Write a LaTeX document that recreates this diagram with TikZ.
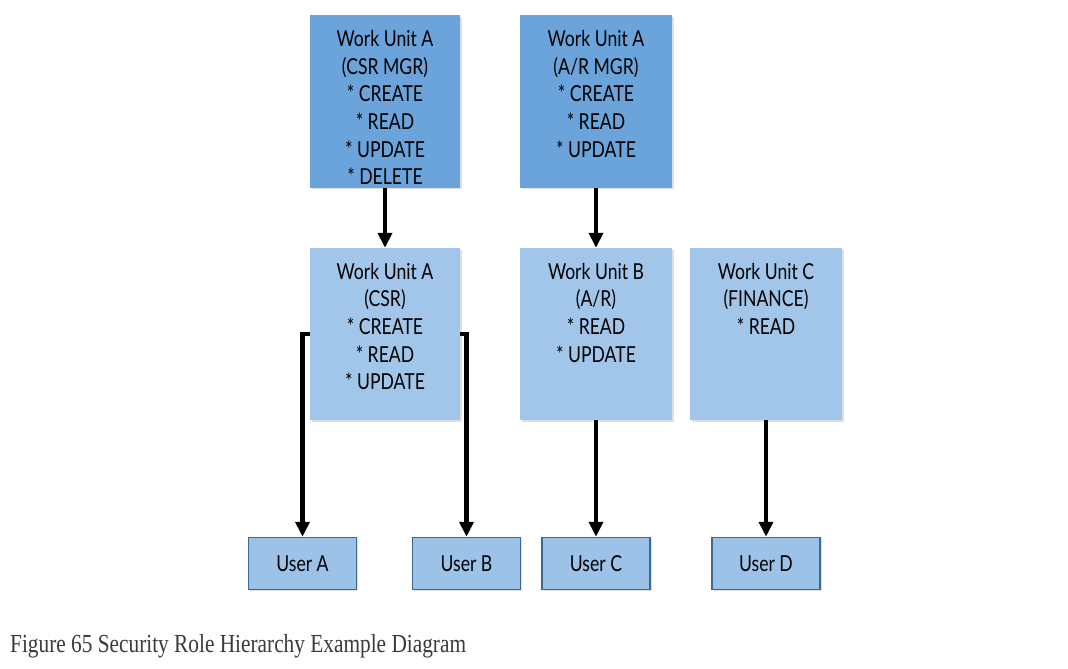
\documentclass[tikz,border=0pt]{standalone}
\usepackage{fontspec}
\setmainfont{Lato}[FakeStretch=0.8]
\newfontfamily\capfont{Liberation Serif}[FakeStretch=0.82]
\usetikzlibrary{arrows.meta, positioning, shadows}
\definecolor{unitdark}{HTML}{6AA4DA}
\definecolor{unitlight}{HTML}{A2C6EA}
\definecolor{userfill}{HTML}{9CC2E8}
\definecolor{userline}{HTML}{3C6894}
\definecolor{captext}{HTML}{3A3A3A}

\begin{document}
\begin{tikzpicture}[x=1pt, y=-1pt,
      >={Triangle[width=14pt, length=15pt]},
      wu/.style={minimum width=150pt, minimum height=172pt, inner sep=0pt,
        drop shadow={shadow xshift=1.5pt, shadow yshift=-1.5pt, opacity=0.25}},
      topunit/.style={wu, fill=unitdark},
      midunit/.style={wu, fill=unitlight},
      txt/.style={anchor=north, align=center, inner sep=0pt, font=\fontsize{22}{27.6}\selectfont},
      usr/.style={draw=userline, line width=1.5pt, fill=userfill, minimum width=108pt,
        minimum height=52pt, font=\fontsize{22}{25}\selectfont,
        drop shadow={shadow xshift=1.5pt, shadow yshift=-1.5pt, opacity=0.25}},
      link/.style={->, line width=4.5pt}]
    \useasboundingbox (0,0) rectangle (1068,669);
    \fill[white] (0,0) rectangle (1068,669);
    % role boxes
    \node[topunit] (topA) at (385, 101.5) {};
    \node[topunit, minimum width=152pt] (topB) at (596, 101.5) {};
    \node[midunit] (midA) at (385, 334) {};
    \node[midunit, minimum width=152pt] (midB) at (596, 334) {};
    \node[midunit, minimum width=152pt] (midC) at (766, 334) {};
    \node[txt] (topAt) at ([yshift=-15pt]topA.north) {Work Unit A\\(CSR MGR)\\* CREATE\\* READ\\* UPDATE\\* DELETE};
    \node[txt] (topBt) at ([yshift=-15pt]topB.north) {Work Unit A\\(A/R MGR)\\* CREATE\\* READ\\* UPDATE};
    \node[txt] (midAt) at ([yshift=-15pt]midA.north) {Work Unit A\\(CSR)\\* CREATE\\* READ\\* UPDATE};
    \node[txt] (midBt) at ([yshift=-15pt]midB.north) {Work Unit B\\(A/R)\\* READ\\* UPDATE};
    \node[txt] (midCt) at ([yshift=-15pt]midC.north) {Work Unit C\\(FINANCE)\\* READ};
    % users
    \foreach \u/\x in {A/302.5, B/466.5, C/596, D/766}
      \node[usr] (user\u) at (\x, 563.5) {User \u};
    \draw[link] (topA) -- (midA);
    \draw[link] (topB) -- (midB);
    \draw[link] (midA.west) -| (userA.north);
    \draw[link] (midA.east) -| (userB.north);
    \draw[link] (midB) -- (userC);
    \draw[link] (midC) -- (userD);
    \node[anchor=base west, inner sep=0pt, text=captext, font=\capfont\fontsize{26}{30}\selectfont] (caption) at (10, 652)
      {Figure 65 Security Role Hierarchy Example Diagram};
\end{tikzpicture}
\end{document}
